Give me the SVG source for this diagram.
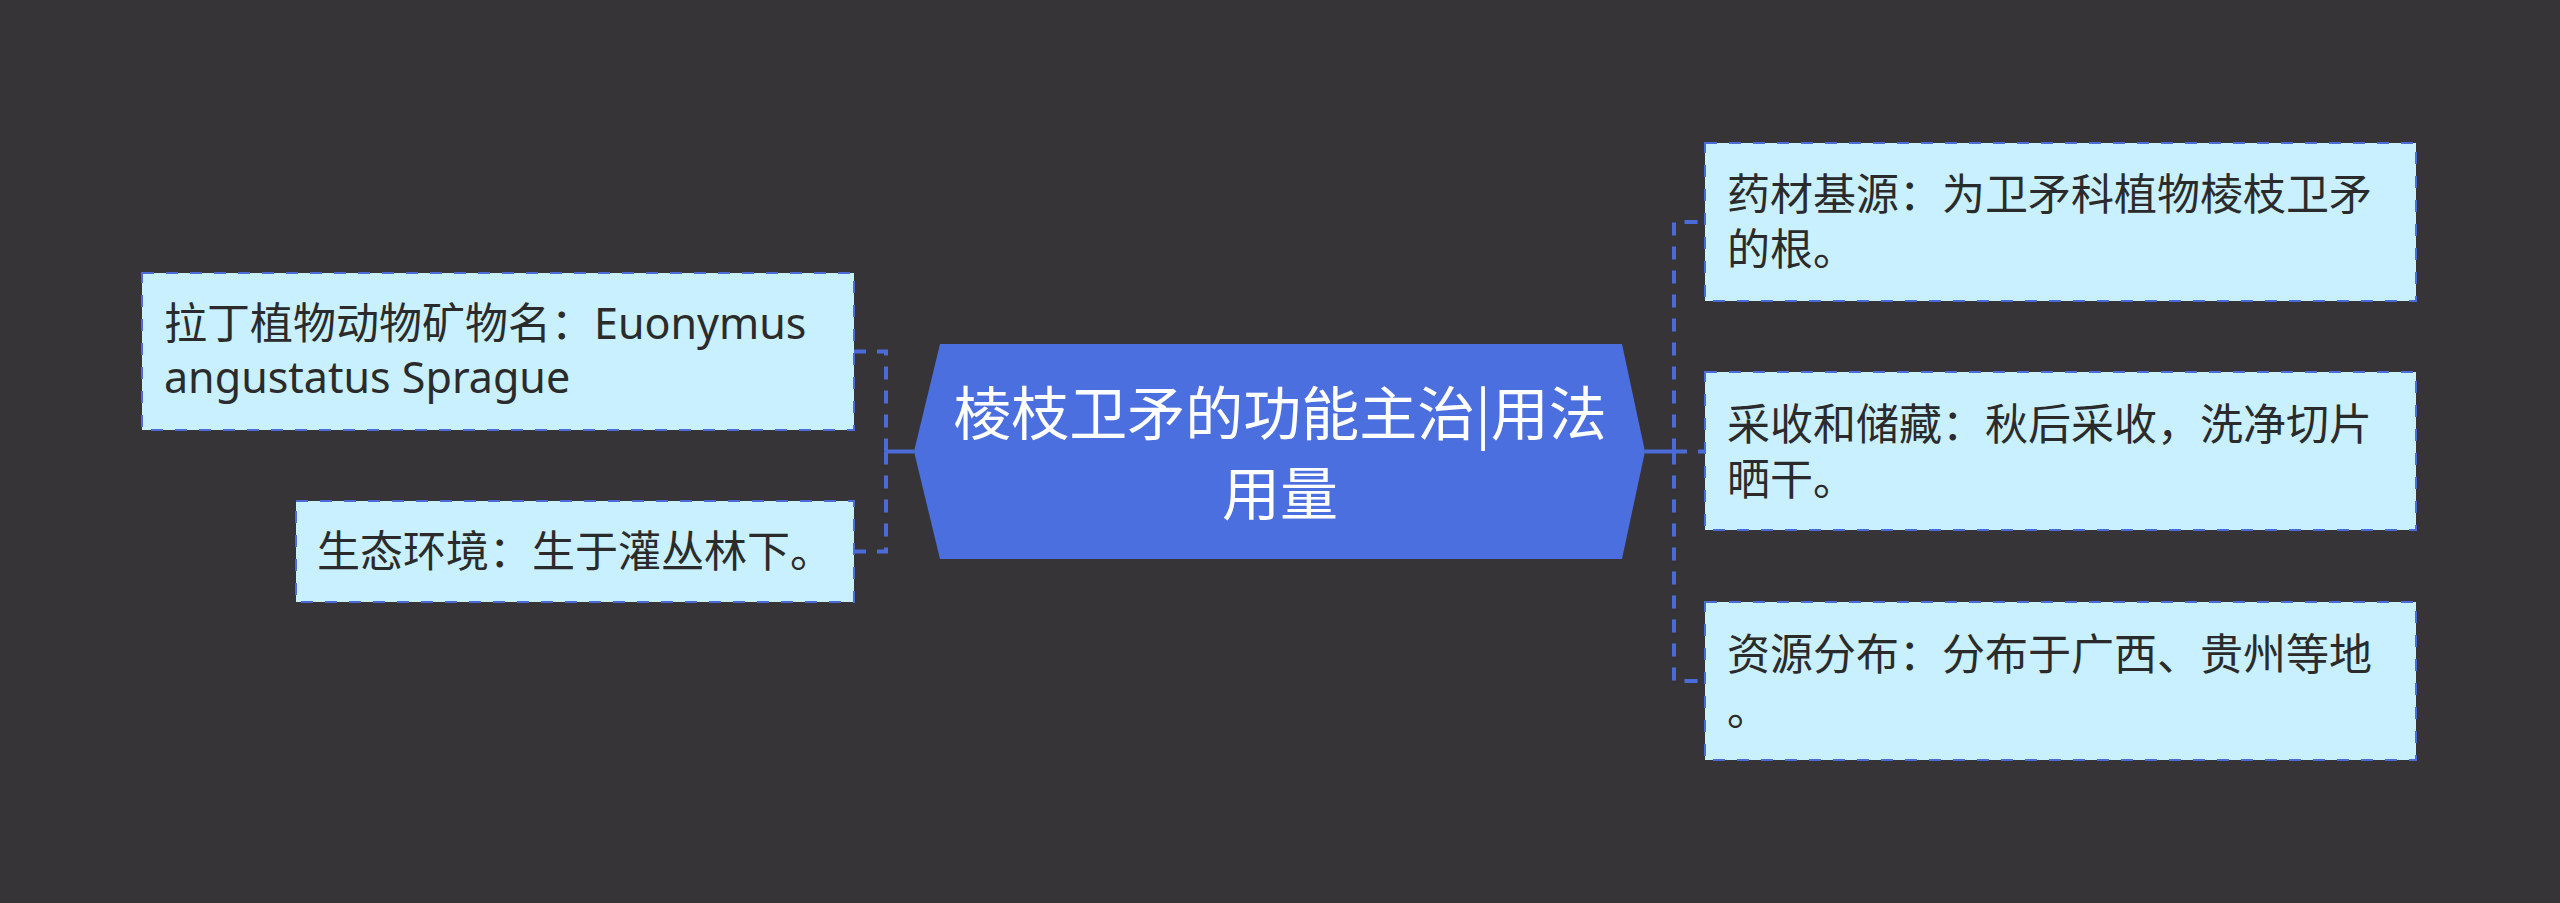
<svg xmlns="http://www.w3.org/2000/svg" width="2560" height="903" viewBox="0 0 2560 903">
<style>
.bg{fill:#363436}
.node rect{fill:#C8F0FE;stroke:#4B6BD9;stroke-width:2;stroke-dasharray:12 12}
.node text{font-family:"Noto Sans","Noto Sans CJK SC",sans-serif;font-size:43px;fill:#2B2B2B}
.root polygon{fill:#4C6FE0}
.root text{font-family:"Noto Sans CJK SC",sans-serif;font-size:58px;fill:#FFFFFF;text-anchor:middle}
.conn path{fill:none;stroke:#4B6BD9;stroke-width:4}
.conn .d{stroke-dasharray:13 11}
</style>
<rect class="bg" x="0" y="0" width="2560" height="903"/>
<g id="connectors" class="conn">
<path d="M914,451.5 H886"/>
<path class="d" d="M886,451.5 V351.5 H854"/>
<path class="d" d="M886,451.5 V551.5 H854"/>
<path d="M1645,451.5 H1674"/>
<path class="d" d="M1674,451.5 V222 H1705"/>
<path class="d" d="M1674,451.5 H1705"/>
<path class="d" d="M1674,451.5 V681 H1705"/>
</g>
<g id="root" class="root">
<polygon points="940,344 1622,344 1645,451.5 1622,559 940,559 914,451.5"/>
<text x="1280" y="435">棱枝卫矛的功能主治|用法</text>
<text x="1280" y="515">用量</text>
</g>
<g id="node-latin" class="node">
<rect x="142" y="273" width="712" height="157"/>
<text x="164" y="339">拉丁植物动物矿物名：Euonymus</text>
<text x="164" y="393">angustatus Sprague</text>
</g>
<g id="node-env" class="node">
<rect x="296" y="501" width="558" height="101"/>
<text x="317" y="567">生态环境：生于灌丛林下。</text>
</g>
<g id="node-source" class="node">
<rect x="1705" y="143" width="711" height="158"/>
<text x="1727" y="210">药材基源：为卫矛科植物棱枝卫矛</text>
<text x="1727" y="265">的根。</text>
</g>
<g id="node-harvest" class="node">
<rect x="1705" y="372" width="711" height="158"/>
<text x="1727" y="440">采收和储藏：秋后采收，洗净切片</text>
<text x="1727" y="495">晒干。</text>
</g>
<g id="node-distribution" class="node">
<rect x="1705" y="602" width="711" height="158"/>
<text x="1727" y="670">资源分布：分布于广西、贵州等地</text>
<text x="1727" y="725">。</text>
</g>
</svg>
